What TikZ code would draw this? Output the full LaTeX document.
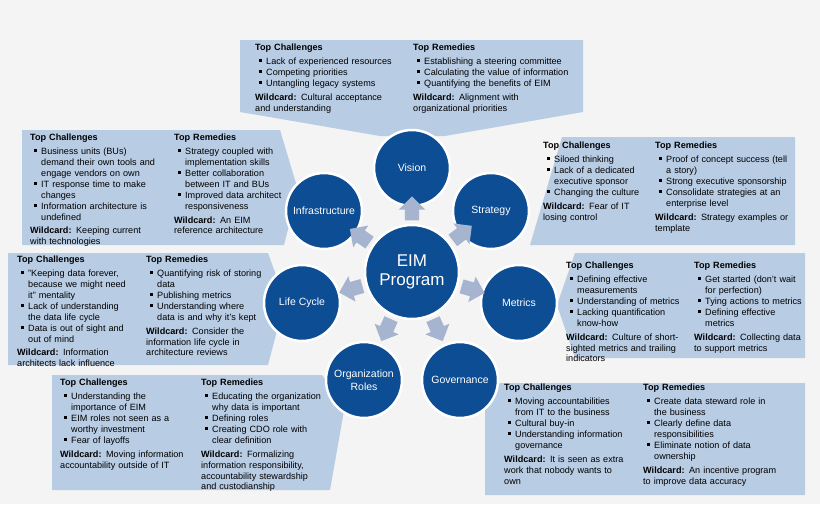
\documentclass[tikz,border=0pt]{standalone}
\usepackage{fontspec}
\setmainfont{Liberation Sans}
\usetikzlibrary{shapes.arrows,calc}
\definecolor{bgc}{HTML}{F4F4F4}
\definecolor{boxc}{HTML}{B8CCE4}
\definecolor{circc}{HTML}{0C4D93}
\definecolor{arrc}{HTML}{A6B4D0}
\newcommand\hd[1]{\noindent\textbf{#1}\par\vspace{3pt}}
\newcommand\itm[1]{\hangindent=11pt\hangafter=1\noindent\hspace*{4pt}\rule[2.5pt]{3pt}{3pt}\hspace{4pt}#1\par}
\newcommand\wc[1]{\vspace{3pt}\noindent\textbf{Wildcard:} #1\par}
\tikzset{
  box/.style={fill=boxc},
  col/.style={anchor=north west, text width=170pt, align=left, inner sep=0pt,
    font=\fontsize{9.1}{10.9}\selectfont},
  topic/.style={circle, fill=circc, draw=white, line width=2.5pt, text=white,
    minimum size=76pt, align=center, font=\fontsize{10.5}{12.5}\selectfont},
  blk/.style={single arrow, fill=arrc, minimum height=24pt, inner sep=7pt,
    single arrow head extend=6pt}
}
\begin{document}
\begin{tikzpicture}[x=1pt,y=-1pt]
\fill[bgc] (0,0) rectangle (820,504);
\useasboundingbox (0,0) rectangle (820,504);
% boxes
\fill[box] (240,40) -- (583,40) -- (583,112) -- (445,136) -- (380,136) -- (240,112) -- cycle;
\fill[box] (22,130) -- (280,130) -- (298,190) -- (284,245) -- (22,245) -- cycle;
\fill[box] (8,253) -- (268,253) -- (285,300) -- (268,365) -- (8,365) -- cycle;
\fill[box] (562,137) -- (795,137) -- (795,245) -- (530,245) -- cycle;
\fill[box] (575,253) -- (805,253) -- (805,358) -- (575,358) -- (557,305) -- cycle;
\fill[box] (52,375) -- (322,375) -- (345,405) -- (330,490) -- (52,490) -- cycle;
\fill[box] (500,383) -- (805,383) -- (805,495) -- (485,495) -- (485,400) -- cycle;

% circles
\node[topic, minimum size=94pt, font=\fontsize{17}{19}\selectfont] (eim) at (412,272) {EIM\\Program};
\node[topic] (vis) at (412,168) {Vision};
\node[topic] (str) at (491,211) {Strategy};
\node[topic] (met) at (519,303) {Metrics};
\node[topic] (gov) at (460,380) {Governance};
\node[topic] (org) at (364,380) {Organization\\Roles};
\node[topic] (lif) at (302,303) {Life Cycle};
\node[topic] (inf) at (324,211) {Infrastructure};

% arrows
\foreach \c in {vis,str,met,gov,org,lif,inf}
  \path let \p1=($(\c)-(eim)$), \n1={atan2(\y1,\x1)} in
    node[blk, rotate=\n1] at ($(eim)!60pt!(\c)$) {};

% texts
\node[col] (vis-c) at (255,44) {\hd{Top Challenges}
  \itm{Lack of experienced resources}\itm{Competing priorities}\itm{Untangling legacy systems}
  \wc{Cultural acceptance\newline and understanding}};
\node[col] (vis-r) at (413,44) {\hd{Top Remedies}
  \itm{Establishing a steering committee}\itm{Calculating the value of information}\itm{Quantifying the benefits of EIM}
  \wc{Alignment with\newline organizational priorities}};

\node[col] (inf-c) at (30,134) {\hd{Top Challenges}
  \itm{Business units (BUs)\newline demand their own tools and\newline engage vendors on own}
  \itm{IT response time to make\newline changes}\itm{Information architecture is\newline undefined}
  \wc{Keeping current\newline with technologies}};
\node[col] (inf-r) at (174,134) {\hd{Top Remedies}
  \itm{Strategy coupled with\newline implementation skills}\itm{Better collaboration\newline between IT and BUs}
  \itm{Improved data architect\newline responsiveness}
  \wc{An EIM\newline reference architecture}};

\node[col] (lif-c) at (17,256) {\hd{Top Challenges}
  \itm{"Keeping data forever,\newline because we might need\newline it" mentality}
  \itm{Lack of understanding\newline the data life cycle}\itm{Data is out of sight and\newline out of mind}
  \wc{Information\newline architects lack influence}};
\node[col] (lif-r) at (146,256) {\hd{Top Remedies}
  \itm{Quantifying risk of storing\newline data}\itm{Publishing metrics}
  \itm{Understanding where\newline data is and why it's kept}
  \wc{Consider the\newline information life cycle in\newline architecture reviews}};

\node[col] (str-c) at (543,142) {\hd{Top Challenges}
  \itm{Siloed thinking}\itm{Lack of a dedicated\newline executive sponsor}\itm{Changing the culture}
  \wc{Fear of IT\newline losing control}};
\node[col] (str-r) at (655,142) {\hd{Top Remedies}
  \itm{Proof of concept success (tell\newline a story)}\itm{Strong executive sponsorship}
  \itm{Consolidate strategies at an\newline enterprise level}
  \wc{Strategy examples or\newline template}};

\node[col] (met-c) at (566,262) {\hd{Top Challenges}
  \itm{Defining effective\newline measurements}\itm{Understanding of metrics}
  \itm{Lacking quantification\newline know-how}
  \wc{Culture of short-\newline sighted metrics and trailing\newline indicators}};
\node[col] (met-r) at (694,262) {\hd{Top Remedies}
  \itm{Get started (don't wait\newline for perfection)}\itm{Tying actions to metrics}
  \itm{Defining effective\newline metrics}
  \wc{Collecting data\newline to support metrics}};

\node[col] (org-c) at (60,379) {\hd{Top Challenges}
  \itm{Understanding the\newline importance of EIM}\itm{EIM roles not seen as a\newline worthy investment}
  \itm{Fear of layoffs}
  \wc{Moving information\newline accountability outside of IT}};
\node[col] (org-r) at (201,379) {\hd{Top Remedies}
  \itm{Educating the organization\newline why data is important}\itm{Defining roles}
  \itm{Creating CDO role with\newline clear definition}
  \wc{Formalizing\newline information responsibility,\newline accountability stewardship\newline and custodianship}};

\node[col] (gov-c) at (504,384) {\hd{Top Challenges}
  \itm{Moving accountabilities\newline from IT to the business}\itm{Cultural buy-in}
  \itm{Understanding information\newline governance}
  \wc{It is seen as extra\newline work that nobody wants to\newline own}};
\node[col] (gov-r) at (643,384) {\hd{Top Remedies}
  \itm{Create data steward role in\newline the business}\itm{Clearly define data\newline responsibilities}
  \itm{Eliminate notion of data\newline ownership}
  \wc{An incentive program\newline to improve data accuracy}};
\end{tikzpicture}
\end{document}
